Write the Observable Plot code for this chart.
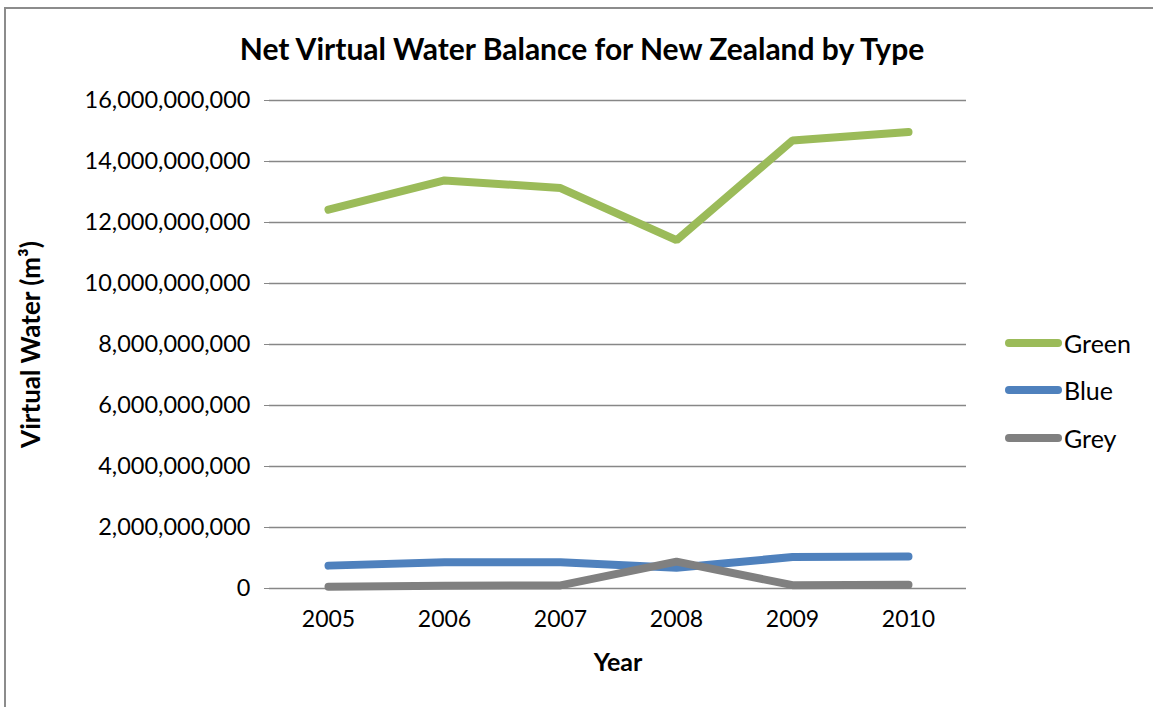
<!DOCTYPE html>
<html>
<head>
<meta charset="utf-8">
<script src="https://cdn.jsdelivr.net/npm/d3@7"></script>
<script src="https://cdn.jsdelivr.net/npm/@observablehq/plot@0.6"></script>
<style>
  body { margin: 0; background: #fff; font-family: Lato, "Open Sans", sans-serif; }
  #chart { position: relative; width: 1153px; height: 707px; overflow: hidden; background: #fff; }
  #border { position: absolute; left: 4px; top: 7px; width: 1300px; height: 900px;
            border-left: 2px solid #8c8c8c; border-top: 2px solid #8c8c8c; }
  #title { position: absolute; left: 0; top: 30px; width: 1164px; text-align: center;
           font-weight: bold; font-size: 30px; line-height: 36px; color: #000; }
  #plot { position: absolute; left: 0; top: 0; }
  .legend { position: absolute; left: 1005px; font-size: 25px; color: #000; }
  .legend .item { position: absolute; left: 0; display: flex; align-items: center; white-space: nowrap; }
  .legend .swatch { width: 57px; height: 8px; border-radius: 4px; margin-right: 2px; }
</style>
</head>
<body>
<div id="chart">
  <div id="border"></div>
  <div id="title">Net Virtual Water Balance for New Zealand by Type</div>
  <div id="plot"></div>
  <div class="legend" id="legend"></div>
</div>
<script>
// Net virtual water balance (m³) by water type, 2005–2010
const years = ["2005", "2006", "2007", "2008", "2009", "2010"];
const green = [12.42e9, 13.38e9, 13.13e9, 11.42e9, 14.69e9, 14.97e9];
const blue  = [0.75e9, 0.86e9, 0.86e9, 0.68e9, 1.03e9, 1.05e9];
const grey  = [0.06e9, 0.09e9, 0.10e9, 0.88e9, 0.11e9, 0.12e9];
const seriesNames = ["Green", "Blue", "Grey"];
const seriesColors = ["#9bbb59", "#4f81bd", "#808080"];
const yTicks = [0, 2e9, 4e9, 6e9, 8e9, 10e9, 12e9, 14e9, 16e9];

const seriesValues = [green, blue, grey];
const rows = seriesNames.flatMap((name, i) =>
  years.map((year, j) => ({ series: name, year, value: seriesValues[i][j] })));

const chart = Plot.plot({
  width: 1153,
  height: 707,
  marginLeft: 269,
  marginRight: 187,
  marginTop: 100,
  marginBottom: 119,
  style: { fontFamily: "Lato, 'Open Sans', sans-serif", fontSize: "23px", color: "#000", background: "transparent" },
  x: { type: "point", domain: years, padding: 0.5, label: null },
  y: { domain: [0, 16e9], label: null },
  color: { domain: seriesNames, range: seriesColors },
  marks: [
    Plot.gridY(yTicks, { stroke: "#878787", strokeOpacity: 1, strokeWidth: 1.5 }),
    Plot.ruleX([0], { frameAnchor: "left", stroke: "#878787", strokeWidth: 1.5 }),
    Plot.axisY(yTicks, {
      tickFormat: d3.format(","),
      tickSize: 5,
      tickPadding: 14,
      stroke: "#878787",
      fontSize: 23.5,
      label: "Virtual Water (m³)",
      labelAnchor: "center",
      labelArrow: "none",
      labelOffset: 248
    }),
    Plot.axisX({
      tickSize: 0,
      tickPadding: 22,
      fontSize: 23,
      label: "Year",
      labelAnchor: "center",
      labelArrow: "none",
      labelOffset: 82
    }),
    Plot.lineY(rows, {
      x: "year",
      y: "value",
      z: "series",
      stroke: { value: "series", scale: "color" },
      strokeWidth: 8,
      strokeLinecap: "round",
      strokeLinejoin: "miter"
    })
  ]
});

// bold axis titles
chart.querySelectorAll("[aria-label='y-axis label'] text").forEach(t => {
  t.setAttribute("font-weight", "bold");
  t.setAttribute("font-size", "26px");
});
chart.querySelectorAll("[aria-label='x-axis label'] text").forEach(t => {
  t.setAttribute("font-weight", "bold");
  t.setAttribute("font-size", "25px");
});
document.getElementById("plot").appendChild(chart);

// legend on the right
const legend = document.getElementById("legend");
const legendTops = [343, 390, 438];
seriesNames.forEach((name, i) => {
  const item = document.createElement("div");
  item.className = "item";
  item.style.top = (legendTops[i] - 16) + "px";
  item.style.height = "32px";
  const sw = document.createElement("div");
  sw.className = "swatch";
  sw.style.background = seriesColors[i];
  const label = document.createElement("span");
  label.textContent = name;
  item.appendChild(sw);
  item.appendChild(label);
  legend.appendChild(item);
});
</script>
</body>
</html>
